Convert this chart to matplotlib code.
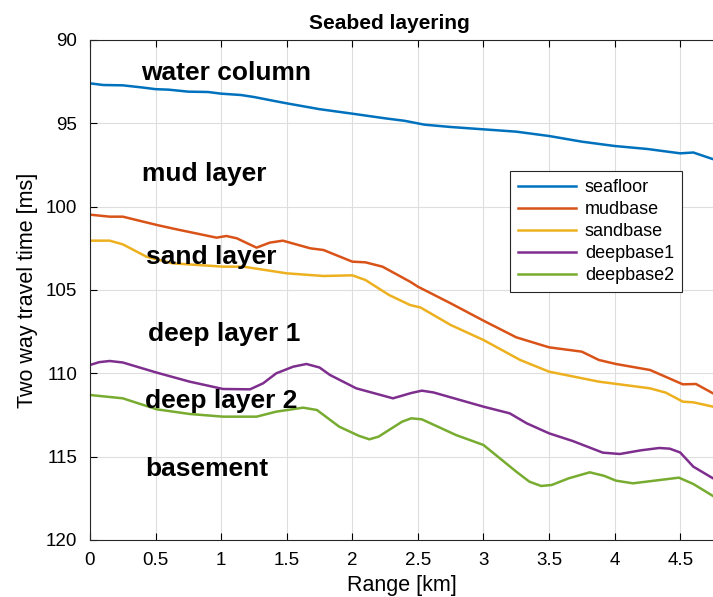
import numpy as np
import matplotlib
matplotlib.use("Agg")
import matplotlib.pyplot as plt

plt.rcParams['font.family'] = ['Liberation Sans', 'DejaVu Sans']

# horizon picks, range in km, two-way time in ms
seafloor_x = [0, 0.1, 0.25, 0.4, 0.5, 0.6, 0.75, 0.9, 1.0, 1.15, 1.25, 1.4, 1.5, 1.75, 2.0, 2.25, 2.4, 2.55, 2.75, 3.0, 3.25, 3.5, 3.75, 4.0, 4.25, 4.5, 4.6, 4.75]
seafloor_t = [92.6, 92.7, 92.72, 92.85, 92.95, 92.98, 93.1, 93.12, 93.22, 93.3, 93.42, 93.65, 93.8, 94.15, 94.42, 94.7, 94.85, 95.08, 95.22, 95.36, 95.5, 95.76, 96.1, 96.36, 96.54, 96.8, 96.75, 97.15]

mudbase_x = [0, 0.15, 0.25, 0.51, 0.66, 0.965, 1.04, 1.12, 1.2, 1.27, 1.37, 1.47, 1.68, 1.78, 2.0, 2.1, 2.23, 2.44, 2.5, 2.75, 3.0, 3.25, 3.5, 3.75, 3.88, 4.01, 4.27, 4.52, 4.62, 4.75]
mudbase_t = [100.48, 100.6, 100.6, 101.1, 101.36, 101.86, 101.76, 101.9, 102.2, 102.46, 102.16, 102.04, 102.5, 102.6, 103.3, 103.34, 103.6, 104.5, 104.8, 105.8, 106.84, 107.84, 108.44, 108.7, 109.2, 109.44, 109.8, 110.66, 110.64, 111.2]

sandbase_x = [0, 0.15, 0.25, 0.43, 0.63, 1.015, 1.17, 1.5, 1.78, 2.0, 2.1, 2.28, 2.44, 2.52, 2.75, 3.0, 3.28, 3.5, 3.88, 4.27, 4.39, 4.52, 4.6, 4.75]
sandbase_t = [102.04, 102.04, 102.26, 103.0, 103.4, 103.6, 103.6, 104.0, 104.16, 104.12, 104.4, 105.3, 105.9, 106.05, 107.1, 108.0, 109.2, 109.9, 110.5, 110.9, 111.16, 111.7, 111.74, 112.0]

deepbase1_x = [0, 0.07, 0.15, 0.25, 0.51, 0.76, 1.015, 1.22, 1.32, 1.42, 1.55, 1.65, 1.75, 1.83, 2.03, 2.31, 2.45, 2.53, 2.62, 3.0, 3.2, 3.33, 3.5, 3.68, 3.91, 4.04, 4.2, 4.34, 4.42, 4.5, 4.6, 4.75]
deepbase1_t = [109.5, 109.33, 109.26, 109.35, 109.96, 110.5, 110.94, 110.96, 110.6, 110.0, 109.6, 109.44, 109.65, 110.1, 110.9, 111.5, 111.18, 111.04, 111.15, 112.0, 112.4, 113.0, 113.6, 114.06, 114.76, 114.84, 114.62, 114.48, 114.52, 114.75, 115.6, 116.3]

deepbase2_x = [0, 0.25, 0.51, 0.76, 1.015, 1.27, 1.42, 1.625, 1.73, 1.9, 2.05, 2.13, 2.2, 2.28, 2.38, 2.45, 2.53, 2.79, 3.0, 3.25, 3.35, 3.44, 3.52, 3.65, 3.81, 3.92, 4.01, 4.14, 4.49, 4.6, 4.75]
deepbase2_t = [111.3, 111.5, 112.16, 112.44, 112.6, 112.6, 112.3, 112.06, 112.2, 113.2, 113.75, 113.96, 113.8, 113.4, 112.9, 112.7, 112.76, 113.7, 114.3, 115.9, 116.5, 116.76, 116.7, 116.3, 115.94, 116.15, 116.44, 116.6, 116.26, 116.64, 117.36]

series_names = ['seafloor', 'mudbase', 'sandbase', 'deepbase1', 'deepbase2']
series_x = [seafloor_x, mudbase_x, sandbase_x, deepbase1_x, deepbase2_x]
series_t = [seafloor_t, mudbase_t, sandbase_t, deepbase1_t, deepbase2_t]
colors = ['#0072BD', '#D95319', '#EDB120', '#7E2F8E', '#77AC30']

layer_names = ['water column', 'mud layer', 'sand layer', 'deep layer 1', 'deep layer 2', 'basement']
layer_x = [0.39, 0.4, 0.43, 0.44, 0.42, 0.42]
layer_t = [92.0, 98.05, 103.05, 107.65, 111.65, 115.75]

fig = plt.figure(figsize=(7.13, 5.97), dpi=100)
ax = fig.add_axes([0.1262, 0.0955, 0.8738, 0.8375])

for name, xs, ts, c in zip(series_names, series_x, series_t, colors):
    ax.plot(xs, ts, color=c, lw=1.8, label=name, solid_joinstyle='round')

for name, xs, ts in zip(layer_names, layer_x, layer_t):
    ax.text(xs, ts, name, fontsize=19, fontweight='bold', va='center', ha='left')

ax.set_xlim(0, 4.75)
ax.set_ylim(120, 90)
ax.set_xticks(np.arange(0, 4.75, 0.5))
ax.set_xticklabels(['0', '0.5', '1', '1.5', '2', '2.5', '3', '3.5', '4', '4.5'])
ax.set_yticks(np.arange(90, 121, 5))
ax.tick_params(direction='in', top=True, right=False, labelsize=13.5, length=5, width=0.8, pad=9)
ax.grid(True, color='#dedede', lw=0.8)
ax.set_axisbelow(True)
ax.spines['right'].set_visible(False)
for s in ['left', 'bottom', 'top']:
    ax.spines[s].set_linewidth(0.8)
    ax.spines[s].set_color('#262626')

ax.set_xlabel('Range [km]', fontsize=15.5, labelpad=4)
ax.set_ylabel('Two way travel time [ms]', fontsize=15.5, labelpad=6)
ax.set_title('Seabed layering', fontsize=15, fontweight='bold', x=0.48, pad=8)

leg = ax.legend(loc='upper left', bbox_to_anchor=(0.674, 0.738), fontsize=13,
                handlelength=3.2, handletextpad=0.5, fancybox=False, framealpha=1,
                edgecolor='#262626', borderpad=0.45, labelspacing=0.28, borderaxespad=0)
leg.get_frame().set_linewidth(0.8)

fig.savefig('out.png', dpi=100)
